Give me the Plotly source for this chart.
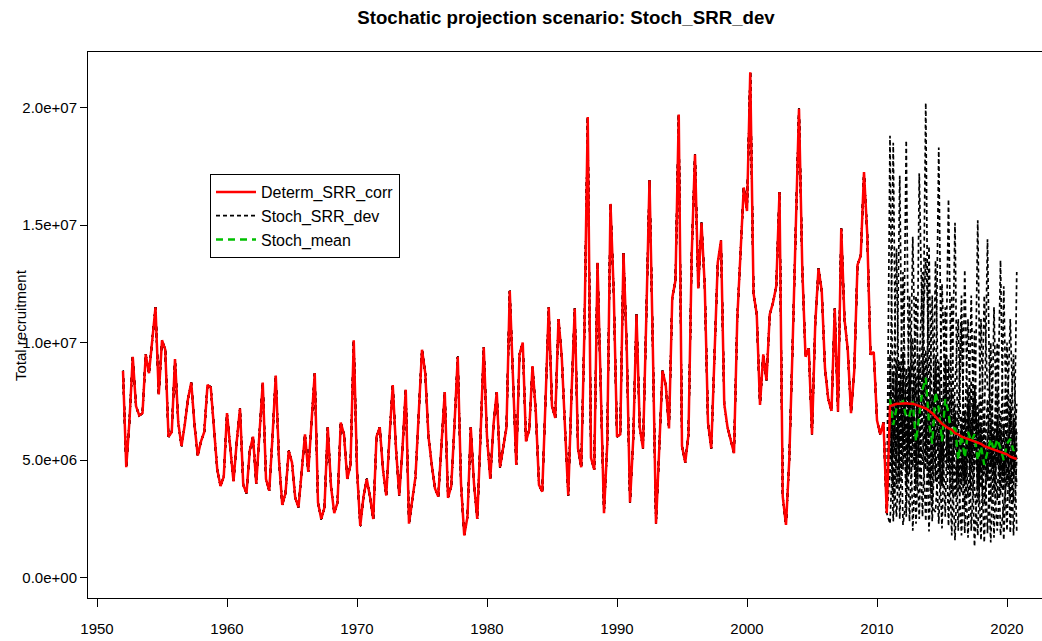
import plotly.graph_objects as go

# ---------------- data (values in millions) ----------------
hist_start = 1952.0
hist_values = [
    8.8, 4.7, 6.7, 9.4, 7.3, 6.9, 7.0, 9.5, 8.7, 10.0, 11.5, 7.8, 10.1, 9.7, 6.0, 6.2,
    9.3, 6.6, 5.6, 6.5, 7.6, 8.3, 6.5, 5.2, 5.8, 6.2, 8.2, 8.1, 6.2, 4.6, 3.9, 4.3,
    7.0, 5.5, 4.1, 5.8, 7.2, 3.95, 3.6, 5.4, 6.0, 4.0, 6.0, 8.3, 4.2, 3.7, 6.0, 8.6,
    5.0, 3.1, 3.6, 5.4, 4.9, 3.4, 3.0, 4.5, 6.1, 4.5, 6.5, 8.7, 3.2, 2.5, 3.0, 6.4,
    3.9, 2.75, 3.2, 6.6, 6.1, 4.2, 4.8, 10.1, 4.6, 2.2, 3.45, 4.2, 3.45, 2.5, 6.0, 6.4,
    4.6, 3.5, 6.0, 8.2, 5.5, 3.5, 5.5, 8.0, 2.3, 3.3, 4.3, 7.0, 9.7, 8.7, 6.0, 4.8,
    3.8, 3.45, 5.5, 7.9, 3.4, 3.9, 6.5, 9.4, 4.0, 1.8, 2.6, 6.4, 4.0, 2.5, 6.0, 9.8,
    6.0, 4.2, 6.5, 7.9, 4.7, 5.5, 6.4, 12.2, 8.7, 4.8, 9.5, 10.0, 5.8, 6.3, 9.0, 7.1,
    3.95, 3.66, 7.5, 11.5, 7.3, 6.8, 11.0, 9.4, 6.4, 3.5, 7.8, 11.45, 5.5, 4.7, 10.7, 19.6,
    5.1, 4.6, 13.4, 8.55, 2.75, 5.7, 15.9, 12.1, 6.0, 6.1, 13.8, 9.8, 3.2, 5.9, 11.2, 6.4,
    5.5, 11.0, 16.9, 10.0, 2.3, 5.5, 8.8, 8.2, 6.35, 11.9, 12.65, 19.7, 5.6, 4.9, 6.1, 13.8,
    18.0, 12.3, 15.1, 12.4, 6.6, 5.5, 9.5, 13.4, 14.35, 7.4, 6.4, 5.8, 5.3, 11.0, 13.8, 16.6,
    15.6, 21.5, 12.1, 11.2, 7.35, 9.5, 8.4, 11.2, 11.7, 12.4, 16.4, 3.45, 2.25, 5.0, 9.7, 15.2,
    19.95, 13.2, 9.4, 9.75, 6.1, 10.8, 13.15, 12.2, 8.9, 7.6, 7.1, 11.45, 7.06, 14.85, 11.0, 9.7,
    7.0, 8.8, 13.3, 13.7, 17.25, 14.6, 9.5, 9.6, 6.7, 6.1, 6.6, 2.75,
]

proj_start = 2011.0
determ_proj = [
    7.3, 7.35, 7.4, 7.4, 7.42, 7.42, 7.4, 7.4, 7.35, 7.3, 7.27, 7.2,
    7.1, 7.0, 6.85, 6.7, 6.55, 6.45, 6.35, 6.3, 6.15, 6.1, 6.0, 5.95,
    5.9, 5.85, 5.8, 5.75, 5.7, 5.6, 5.55, 5.5, 5.45, 5.4, 5.35, 5.3,
    5.25, 5.15, 5.1, 5.05,
]
stoch_mean = [
    7.6, 6.5, 7.2, 7.4, 7.5, 6.8, 6.9, 7.5, 5.8, 6.9, 8.0, 8.5,
    6.6, 5.7, 7.9, 7.2, 5.8, 7.6, 7.0, 6.0, 6.5, 5.0, 6.1, 5.1,
    6.2, 5.8, 6.1, 5.0, 5.6, 4.8, 5.3, 5.9, 5.4, 5.9, 5.5, 5.0,
    5.7, 5.9, 5.4, 5.6,
]
stoch_a = [18.8, 5.2, 8.4, 4.1, 9.6, 2.6, 7.3, 10.2, 4.8, 8.9, 13.0, 6.1, 3.9, 7.8, 5.4, 2.3, 6.7, 9.1, 4.4, 7.2,
           15.1, 3.6, 6.9, 4.2, 8.1, 2.0, 5.3, 7.4, 3.8, 6.2, 14.4, 4.7, 6.0, 3.3, 7.1, 1.6, 5.8, 4.1, 6.6, 3.9]
stoch_b = [6.3, 18.5, 4.9, 9.2, 5.8, 7.7, 2.4, 6.4, 8.6, 4.3, 7.4, 20.2, 5.1, 3.2, 9.4, 6.0, 2.1, 7.3, 5.5, 3.6,
           8.2, 11.0, 4.5, 7.1, 3.4, 6.8, 1.33, 4.9, 7.7, 3.1, 5.2, 10.0, 4.2, 6.9, 3.5, 5.4, 2.0, 7.8, 4.6, 6.2]
stoch_c = [4.4, 7.1, 14.0, 5.3, 8.2, 3.9, 9.0, 2.0, 5.6, 7.9, 10.1, 4.6, 14.1, 6.2, 8.8, 4.0, 7.2, 2.6, 9.3, 4.8,
           5.9, 6.6, 12.0, 3.0, 5.7, 8.4, 3.9, 1.8, 6.1, 4.4, 7.6, 3.2, 11.5, 4.8, 6.3, 3.7, 8.0, 1.9, 5.2, 7.4]
stoch_d = [9.5, 3.4, 6.7, 17.1, 4.6, 8.9, 5.2, 7.6, 2.3, 6.4, 4.8, 9.7, 6.0, 12.0, 4.1, 9.2, 5.0, 8.3, 2.2, 6.8,
           4.4, 5.1, 3.6, 13.1, 6.0, 3.7, 8.2, 5.5, 1.6, 7.0, 4.1, 6.3, 5.5, 10.0, 4.7, 6.5, 4.0, 7.2, 1.8, 5.1]
stoch_e = [5.7, 8.8, 3.8, 6.6, 13.0, 5.4, 7.9, 4.7, 6.3, 2.5, 8.6, 5.2, 7.5, 4.4, 13.5, 6.9, 3.9, 7.8, 6.3, 1.8,
           7.0, 4.3, 5.6, 6.1, 11.0, 5.0, 7.1, 3.9, 5.4, 1.5, 6.0, 7.4, 3.6, 5.9, 13.5, 4.5, 6.1, 3.3, 6.8, 2.0]
stoch_f = [2.3, 5.9, 7.8, 4.8, 7.1, 18.6, 4.4, 8.1, 5.0, 7.6, 2.6, 6.9, 4.3, 5.5, 7.1, 18.3, 5.6, 4.9, 7.9, 5.2,
           1.6, 5.8, 4.1, 6.3, 5.2, 12.0, 4.6, 6.6, 4.5, 5.8, 1.9, 5.5, 4.8, 6.4, 3.9, 12.4, 4.9, 6.7, 4.2, 5.6]
stoch_g = [7.9, 2.4, 5.6, 8.3, 6.0, 4.5, 12.0, 6.8, 4.2, 9.5, 6.5, 2.4, 7.0, 4.9, 6.3, 5.4, 12.5, 8.0, 6.1, 4.4,
           6.9, 2.0, 5.3, 4.0, 7.4, 4.6, 10.5, 3.8, 6.6, 4.7, 5.3, 1.5, 6.2, 5.1, 4.4, 5.9, 10.0, 4.8, 5.9, 6.3]
stoch_h = [6.8, 4.7, 2.6, 6.0, 8.4, 6.2, 5.5, 14.5, 7.4, 5.1, 9.2, 7.8, 1.97, 6.6, 8.0, 7.1, 4.9, 11.5, 6.8, 7.9,
           6.1, 4.7, 1.8, 5.6, 4.9, 6.3, 5.7, 15.2, 4.8, 5.5, 4.4, 6.8, 1.7, 6.6, 5.2, 4.1, 6.4, 11.0, 6.2, 5.0]
stoch_i = [8.6, 6.0, 9.3, 2.5, 6.9, 5.8, 8.1, 5.6, 12.0, 6.8, 7.7, 8.5, 5.9, 2.4, 6.6, 7.8, 6.3, 7.0, 16.1, 6.5,
           7.4, 5.3, 6.4, 1.9, 6.2, 5.5, 5.9, 4.7, 11.0, 4.9, 5.1, 5.7, 4.6, 2.0, 4.8, 4.4, 5.5, 6.0, 9.5, 5.4]
stoch_j = [5.7, 4.1, 8.9, 9.1, 2.25, 3.4, 8.7, 9.1, 3.8, 17.2, 10.1, 13.6, 10.3, 3.0, 2.8, 5.3, 3.9, 9.5, 4.9, 12.0,
           3.4, 5.6, 10.8, 5.2, 1.7, 5.7, 7.8, 3.2, 5.3, 12.0, 8.0, 8.0, 5.4, 8.0, 1.8, 3.1, 4.3, 5.4, 3.2, 13.0]

y_tick_vals = [0, 5e6, 1e7, 1.5e7, 2e7]
y_tick_text = ["0.0e+00", "5.0e+06", "1.0e+07", "1.5e+07", "2.0e+07"]
x_tick_vals = [1950, 1960, 1970, 1980, 1990, 2000, 2010, 2020]

# ---------------- derived ----------------
M = 1e6
hist_years = [hist_start + i / 4 for i in range(len(hist_values))]
proj_years = [proj_start + i / 4 for i in range(len(determ_proj))]
all_years = hist_years + proj_years
hist_abs = [v * M for v in hist_values]

fig = go.Figure()

stoch_runs = [stoch_a, stoch_b, stoch_c, stoch_d, stoch_e, stoch_f, stoch_g, stoch_h, stoch_i, stoch_j]
for k, run in enumerate(stoch_runs):
    fig.add_trace(go.Scatter(
        x=all_years, y=hist_abs + [v * M for v in run], mode="lines",
        line=dict(color="black", width=1.7, dash="4px,3px"),
        name="Stoch_SRR_dev", legendgroup="stoch", showlegend=(k == 0), legendrank=2,
        hoverinfo="skip"))

fig.add_trace(go.Scatter(
    x=proj_years, y=[v * M for v in stoch_mean], mode="lines",
    line=dict(color="#00C000", width=2.4, dash="7px,5px"),
    name="Stoch_mean", legendrank=3))

fig.add_trace(go.Scatter(
    x=all_years, y=hist_abs + [v * M for v in determ_proj], mode="lines",
    line=dict(color="#FF0000", width=2.5),
    name="Determ_SRR_corr", legendrank=1))

W, H = 1042, 641
L, R, T, B = 88, 0, 52, 43
px_per_year = 13.0
x0_year = 1950 - (97 - L) / px_per_year
x1_year = 1950 + (W - R - 97) / px_per_year

font = "Liberation Sans, Arial, sans-serif"
fig.update_layout(
    width=W, height=H,
    margin=dict(l=L, r=R, t=T, b=B, pad=0),
    paper_bgcolor="white", plot_bgcolor="white",
    font=dict(family=font, size=15, color="black"),
    title=dict(text="<b>Stochatic projection scenario: Stoch_SRR_dev</b>",
               x=566 / W, xanchor="center", y=1 - 17 / H, yanchor="middle",
               xref="container", yref="container",
               font=dict(family=font, size=18.7, color="black")),
    showlegend=True,
    legend=dict(x=(210 - L) / (W - L - R), y=(H - B - 174) / (H - B - T),
                xanchor="left", yanchor="top",
                bgcolor="white", bordercolor="black", borderwidth=1,
                font=dict(family=font, size=16, color="black"),
                tracegroupgap=0, itemwidth=40),
    xaxis=dict(range=[x0_year, x1_year], tickvals=x_tick_vals,
               ticks="outside", ticklen=8, tickwidth=1, tickcolor="black",
               ticklabelstandoff=9,
               showline=True, linecolor="black", linewidth=1, mirror=True,
               showgrid=False, zeroline=False,
               tickfont=dict(family=font, size=15, color="black")),
    yaxis=dict(range=[-0.86e6, 22.36e6], tickvals=y_tick_vals, ticktext=y_tick_text,
               ticks="outside", ticklen=7, tickwidth=1, tickcolor="black",
               showline=True, linecolor="black", linewidth=1,
               showgrid=False, zeroline=False,
               tickfont=dict(family=font, size=15, color="black")),
    annotations=[dict(text="Total recruitment", textangle=-90, showarrow=False,
                      xref="paper", yref="paper", x=0, xshift=-68, y=0.5,
                      xanchor="center", yanchor="middle",
                      font=dict(family=font, size=15, color="black"))],
)

fig.write_html("out.html")
